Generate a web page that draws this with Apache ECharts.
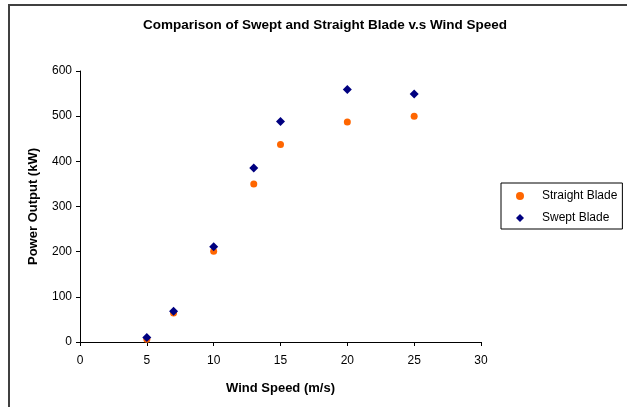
<!DOCTYPE html>
<html>
<head>
<meta charset="utf-8">
<script src="https://cdn.jsdelivr.net/npm/echarts@6/dist/echarts.min.js"></script>
<style>
html,body{margin:0;padding:0;background:#fff;}
#chart{width:627px;height:407px;}
</style>
</head>
<body>
<div id="chart"></div>
<script>
const windSpeed = [5, 7, 10, 13, 15, 20, 25];
const straightBlade = [6, 64, 201, 350, 437, 487, 500];
const sweptBlade = [10, 68, 211, 385, 488, 559, 549];
const xTicks = [0, 5, 10, 15, 20, 25, 30];
const yTicks = [0, 100, 200, 300, 400, 500, 600];

const font = 'Arial, "Liberation Sans", sans-serif';
const chart = echarts.init(document.getElementById('chart'), null, {renderer: 'canvas'});
chart.setOption({
  animation: false,
  backgroundColor: '#fff',
  title: {
    text: 'Comparison of Swept and Straight Blade v.s Wind Speed',
    left: 320, top: 13, textAlign: 'center',
    textStyle: {fontFamily: font, fontSize: 13.5, fontWeight: 'bold', color: '#000'}
  },
  graphic: [
    {type: 'polyline', shape: {points: [[9, 420], [9, 5], [640, 5]]},
     style: {stroke: '#404040', lineWidth: 2, fill: null}, silent: true}
  ],
  legend: {
    orient: 'vertical', left: 501, top: 183,
    borderColor: '#000', borderWidth: 1,
    padding: [7, 5, 5, 15],
    itemGap: 10, itemWidth: 8, itemHeight: 8,
    textStyle: {fontFamily: font, fontSize: 12, color: '#000', padding: [0, 0, 0, 13]},
    data: ['Straight Blade', 'Swept Blade']
  },
  grid: {left: 80, right: 146, top: 71, bottom: 65},
  xAxis: {
    type: 'value', min: xTicks[0], max: xTicks[xTicks.length - 1], interval: 5,
    name: 'Wind Speed (m/s)', nameLocation: 'middle', nameGap: 40,
    nameTextStyle: {fontFamily: font, fontSize: 13, fontWeight: 'bold', color: '#000'},
    axisLine: {show: true, lineStyle: {color: '#000', width: 1}},
    axisTick: {show: true, length: 4, lineStyle: {color: '#000'}},
    axisLabel: {fontFamily: font, fontSize: 12, color: '#000', margin: 13},
    splitLine: {show: false}
  },
  yAxis: {
    type: 'value', min: yTicks[0], max: yTicks[yTicks.length - 1], interval: 100,
    name: 'Power Output (kW)', nameLocation: 'middle', nameGap: 40, nameRotate: 90,
    nameTextStyle: {fontFamily: font, fontSize: 13, fontWeight: 'bold', color: '#000'},
    axisLine: {show: true, lineStyle: {color: '#000', width: 1}},
    axisTick: {show: true, length: 4, lineStyle: {color: '#000'}},
    axisLabel: {fontFamily: font, fontSize: 12, color: '#000', margin: 8},
    splitLine: {show: false}
  },
  series: [
    {
      name: 'Straight Blade', type: 'scatter', symbol: 'circle', symbolSize: 7,
      itemStyle: {color: '#FF6600', opacity: 1},
      data: windSpeed.map((x, i) => [x, straightBlade[i]])
    },
    {
      name: 'Swept Blade', type: 'scatter', symbol: 'diamond', symbolSize: 9,
      itemStyle: {color: '#000080', opacity: 1},
      data: windSpeed.map((x, i) => [x, sweptBlade[i]])
    }
  ]
});
</script>
</body>
</html>
